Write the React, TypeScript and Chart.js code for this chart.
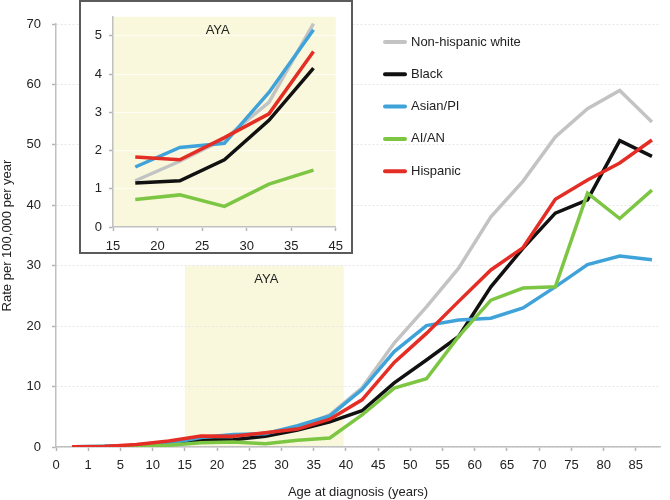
import React, { useEffect, useRef } from 'react';
import Chart from 'chart.js/auto';

// ---- Data ----
const ageLabels = ['0', '1', '5', '10', '15', '20', '25', '30', '35', '40', '45', '50', '55', '60', '65', '70', '75', '80', '85'];
// each age group is plotted in the middle of its interval (index units on the category axis)
const agePositions = [0.5, 1.5, 2.5, 3.5, 4.5, 5.5, 6.5, 7.5, 8.5, 9.5, 10.5, 11.5, 12.5, 13.5, 14.5, 15.5, 16.5, 17.5, 18.5];

const nhWhite = [0.05, 0.1, 0.3, 0.6, 1.21, 1.72, 2.3, 3.26, 5.32, 9.8, 17.2, 23.2, 29.6, 38.1, 44.0, 51.3, 56.0, 59.0, 53.8];
const black = [0.05, 0.1, 0.25, 0.5, 1.15, 1.21, 1.76, 2.79, 4.16, 6.0, 10.6, 14.4, 18.3, 26.5, 32.9, 38.7, 40.9, 50.7, 48.1];
const asianPI = [0.05, 0.1, 0.25, 0.6, 1.57, 2.08, 2.19, 3.52, 5.16, 9.5, 15.8, 20.1, 21.0, 21.3, 23.0, 26.5, 30.2, 31.6, 31.0];
const aian = [0.02, 0.05, 0.15, 0.3, 0.72, 0.84, 0.54, 1.12, 1.49, 5.3, 9.75, 11.3, 18.3, 24.3, 26.3, 26.5, 42.0, 37.8, 42.5];
const hispanic = [0.05, 0.1, 0.4, 1.0, 1.83, 1.76, 2.34, 2.96, 4.59, 7.8, 14.0, 18.8, 24.1, 29.3, 33.0, 41.0, 44.2, 47.0, 50.8];

const yTicksMain = [0, 10, 20, 30, 40, 50, 60, 70];

// inset (AYA zoom)
const insetLabels = ['15', '20', '25', '30', '35', '45'];
const insetPositions = [0.5, 1.5, 2.5, 3.5, 4.5];
const insetStart = 4;
const insetEnd = 9;
const yTicksInset = [0, 1, 2, 3, 4, 5];

// AYA band on main chart (in category index units) and its height
const ayaFrom = 4;
const ayaTo = 8.93;
const ayaTop = 30;

const seriesNames = ['Non-hispanic white', 'Black', 'Asian/PI', 'AI/AN', 'Hispanic'];
const seriesValues = [nhWhite, black, asianPI, aian, hispanic];
const seriesColors = ['#c3c3c3', '#111111', '#3fa3da', '#7dc644', '#e42d24'];

const FONT = "'Liberation Sans', Arial, Helvetica, sans-serif";
const TEXT = '#222222';
const SHADE = '#f9f8dc';

function buildDatasets(positions: number[], slice?: [number, number]) {
  // draw Hispanic on top, NHW at bottom: dataset 0 is drawn last
  const order = [4, 3, 2, 1, 0];
  return order.map((k) => {
    const vals = slice ? seriesValues[k].slice(slice[0], slice[1]) : seriesValues[k];
    return {
      label: seriesNames[k],
      data: vals.map((v, i) => ({ x: positions[i], y: v })),
      borderColor: seriesColors[k],
      backgroundColor: seriesColors[k],
      borderWidth: 3.5,
      pointRadius: 0,
      tension: 0,
      fill: false,
    };
  });
}

export default function App() {
  const mainRef = useRef<HTMLCanvasElement>(null);
  const insetRef = useRef<HTMLCanvasElement>(null);

  useEffect(() => {
    const mainPlugin = {
      id: 'mainDecor',
      beforeDraw(chart: any) {
        const { ctx, scales } = chart;
        const x = scales.x, y = scales.y;
        const x1 = x.getPixelForValue(ayaFrom);
        const x2 = x.getPixelForValue(ayaTo);
        const yT = y.getPixelForValue(ayaTop);
        const yB = y.getPixelForValue(0);
        ctx.save();
        ctx.fillStyle = SHADE;
        ctx.fillRect(x1, yT, x2 - x1, yB - yT);
        ctx.fillStyle = TEXT;
        ctx.font = `13px ${FONT}`;
        ctx.textAlign = 'center';
        ctx.textBaseline = 'middle';
        ctx.fillText('AYA', (x1 + x2) / 2 + 2, yT + 14);
        ctx.restore();
      },
      afterDraw(chart: any) {
        const { ctx } = chart;
        ctx.save();
        ctx.font = `13px ${FONT}`;
        ctx.textBaseline = 'middle';
        ctx.textAlign = 'left';
        seriesNames.forEach((name, k) => {
          const yy = 42 + k * 32.3;
          ctx.strokeStyle = seriesColors[k];
          ctx.lineWidth = 4;
          ctx.lineCap = 'round';
          ctx.beginPath();
          ctx.moveTo(385, yy);
          ctx.lineTo(405, yy);
          ctx.stroke();
          ctx.fillStyle = TEXT;
          ctx.fillText(name, 411, yy);
        });
        ctx.restore();
      },
    };

    const main = new Chart(mainRef.current!, {
      type: 'line',
      data: { datasets: buildDatasets(agePositions) as any },
      plugins: [mainPlugin],
      options: {
        animation: false,
        responsive: false,
        events: [],
        layout: { padding: { top: 24, right: 10, left: 0, bottom: 0 } },
        plugins: { legend: { display: false }, tooltip: { enabled: false } },
        scales: {
          x: {
            type: 'linear',
            min: 0,
            max: 18.75,
            afterBuildTicks: (s: any) => {
              s.ticks = ageLabels.map((_, i) => ({ value: i }));
            },
            afterFit: (s: any) => {
              s.height = 53;
            },
            ticks: {
              autoSkip: false,
              maxRotation: 0,
              padding: 7,
              color: TEXT,
              font: { size: 13, family: FONT },
              callback: (_v: any, i: number) => ageLabels[i],
            },
            grid: { drawOnChartArea: false, drawTicks: true, tickLength: 4, tickColor: '#b5b5b5', tickWidth: 1.5 },
            border: { color: '#c0c0c0', width: 1.5 },
            title: {
              display: true,
              text: 'Age at diagnosis (years)',
              color: TEXT,
              font: { size: 13, family: FONT },
              padding: { top: 0, bottom: 0 },
            },
          },
          y: {
            min: 0,
            max: 70,
            afterBuildTicks: (s: any) => {
              s.ticks = yTicksMain.map((v) => ({ value: v }));
            },
            afterFit: (s: any) => {
              s.width = 56;
            },
            ticks: {
              padding: 11,
              color: TEXT,
              font: { size: 13, family: FONT },
              callback: (_v: any, i: number) => String(yTicksMain[i]),
            },
            grid: { color: '#e6e6e6', lineWidth: 1, tickLength: 4, tickColor: '#b5b5b5', tickWidth: 1.5 },
            border: { color: '#c0c0c0', width: 1.5, dash: [2, 2] },
            title: {
              display: true,
              text: 'Rate per 100,000 per year',
              color: TEXT,
              font: { size: 13, family: FONT },
              padding: { top: 0, bottom: 0 },
            },
          },
        },
      } as any,
    });

    const insetPlugin = {
      id: 'insetDecor',
      beforeDraw(chart: any) {
        const { ctx, chartArea, scales } = chart;
        ctx.save();
        ctx.fillStyle = SHADE;
        ctx.fillRect(chartArea.left, chartArea.top, chartArea.right - chartArea.left, chartArea.bottom - chartArea.top);
        ctx.fillStyle = TEXT;
        ctx.font = `13px ${FONT}`;
        ctx.textAlign = 'center';
        ctx.textBaseline = 'middle';
        ctx.fillText('AYA', scales.x.getPixelForValue(2.35), chartArea.top + 14);
        ctx.restore();
      },
    };

    const inset = new Chart(insetRef.current!, {
      type: 'line',
      data: { datasets: buildDatasets(insetPositions, [insetStart, insetEnd]) as any },
      plugins: [insetPlugin],
      options: {
        animation: false,
        responsive: false,
        events: [],
        layout: { padding: { top: 11, right: 13, left: 0, bottom: 0 } },
        plugins: { legend: { display: false }, tooltip: { enabled: false } },
        scales: {
          x: {
            type: 'linear',
            min: 0,
            max: 5,
            afterBuildTicks: (s: any) => {
              s.ticks = insetLabels.map((_, i) => ({ value: i }));
            },
            afterFit: (s: any) => {
              s.height = 25;
            },
            ticks: {
              autoSkip: false,
              maxRotation: 0,
              padding: 8,
              color: TEXT,
              font: { size: 13, family: FONT },
              callback: (_v: any, i: number) => insetLabels[i],
            },
            grid: { drawOnChartArea: false, drawTicks: true, tickLength: 4, tickColor: '#b5b5b5', tickWidth: 1.5 },
            border: { color: '#c0c0c0', width: 1.5 },
          },
          y: {
            min: 0,
            max: 5.5,
            afterBuildTicks: (s: any) => {
              s.ticks = yTicksInset.map((v) => ({ value: v }));
            },
            afterFit: (s: any) => {
              s.width = 32;
            },
            ticks: {
              padding: 7,
              color: TEXT,
              font: { size: 13, family: FONT },
              callback: (_v: any, i: number) => String(yTicksInset[i]),
            },
            grid: { color: 'rgba(255,255,255,0.75)', lineWidth: 1, tickLength: 4, tickColor: '#b5b5b5', tickWidth: 1.5 },
            border: { color: '#c0c0c0', width: 1.5 },
          },
        },
      } as any,
    });

    return () => {
      main.destroy();
      inset.destroy();
    };
  }, []);

  return (
    <div style={{ position: 'absolute', left: 0, top: 0, width: 670, height: 500, background: '#fff' }}>
      <canvas ref={mainRef} width={670} height={500} style={{ display: 'block', width: 670, height: 500 }} />
      <div
        style={{
          position: 'absolute',
          left: 79,
          top: 0,
          width: 274,
          height: 254,
          border: '2px solid #5b5b5b',
          boxSizing: 'border-box',
          background: '#fff',
        }}
      >
        <canvas ref={insetRef} width={270} height={250} style={{ display: 'block', width: 270, height: 250 }} />
      </div>
    </div>
  );
}
